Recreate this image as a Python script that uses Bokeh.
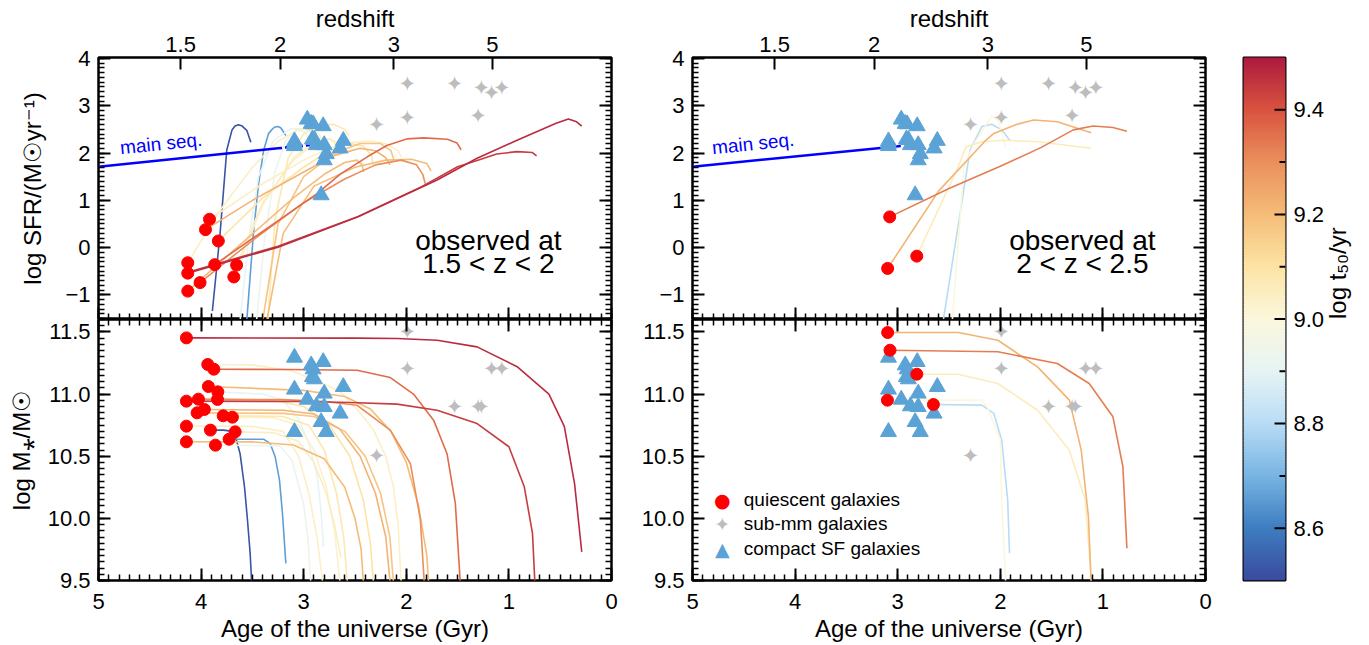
import numpy as np
from bokeh.plotting import figure
from bokeh.layouts import row, column
from bokeh.models import (Range1d, LinearAxis, FixedTicker, PrintfTickFormatter,
                          Label, CustomLabelingPolicy, BoxAnnotation)
from bokeh.core.properties import value
from bokeh.embed import file_html
from bokeh.resources import INLINE

FONT = "Liberation Sans"

# ------------------------------------------------------------------ data
age_ticks = [5, 4, 3, 2, 1, 0]
redshift_labels = ["1.5", "2", "3", "5"]
redshift_ages = [4.20, 3.23, 2.12, 1.16]
sfr_ticks = [-1, 0, 1, 2, 3, 4]
mass_ticks = [9.5, 10.0, 10.5, 11.0, 11.5]
t50_ticks = [8.6, 8.8, 9.0, 9.2, 9.4]
t50_minor = [8.7, 8.9, 9.1, 9.3]

# colour scale of log t50 (8.5 -> 9.5 in steps of 0.1)
t50_stops = ['#3b4a9e', '#3d7dc0', '#78b4e3', '#b8dcf5', '#e6f4f4', '#fbf7dc',
             '#fde4a4', '#f5bc78', '#ea8f5c', '#d9533f', '#ac1a3f']

# main sequence
ms1_age = [5.0, 3.25]
ms1_sfr = [1.71, 2.10]
ms1_dash_age = [3.25, 2.94]
ms1_dash_sfr = [2.10, 2.17]
ms2_age = [5.0, 2.97]
ms2_sfr = [1.71, 2.15]

# quiescent galaxies observed at 1.5<z<2
q1_sfr_age = [4.13, 4.13, 4.13, 4.01, 3.957, 3.918, 3.832, 3.867, 3.654, 3.681]
q1_sfr = [-0.32, -0.54, -0.92, -0.74, 0.38, 0.60, 0.14, -0.36, -0.37, -0.62]
q1_mass_age = [4.143, 3.935, 3.876, 3.929, 3.837, 4.143, 4.026, 3.84, 4.039,
               3.968, 3.785, 3.695, 4.143, 3.909, 3.668, 3.727, 4.143, 3.86]
q1_mass = [11.452, 11.238, 11.2, 11.061, 11.018, 10.943, 10.959, 10.957, 10.849,
           10.876, 10.825, 10.814, 10.742, 10.71, 10.696, 10.637, 10.616, 10.589]

# quiescent galaxies observed at 2<z<2.5
q2_sfr_age = [3.078, 3.098, 2.814]
q2_sfr = [0.65, -0.44, -0.18]
q2_mass_age = [3.098, 3.075, 2.814, 3.10, 2.652]
q2_mass = [11.495, 11.353, 11.16, 10.951, 10.916]

# sub-mm galaxies
submm_age = [1.99, 1.53, 1.27, 1.17, 1.07, 1.99, 1.30, 2.29]
submm_sfr = [3.46, 3.45, 3.37, 3.26, 3.38, 2.75, 2.78, 2.59]
submm_mass = [11.5, 10.9, 10.9, 11.2, 11.2, 11.2, 10.9, 10.5]

# compact star-forming galaxies
compact_age = [3.09, 3.09, 3.09, 2.965, 2.927, 2.915, 2.908, 2.896, 2.876, 2.83,
               2.81, 2.80, 2.80, 2.78, 2.645, 2.614]
compact_sfr = [2.20, 2.15, 2.25, 2.71, 2.62, 2.29, 2.61, 2.28, 2.17, 1.11,
               2.57, 2.17, 1.85, 1.98, 2.10, 2.26]
compact_mass = [11.294, 11.037, 10.696, 10.956, 11.232, 11.138, 11.20, 11.12, 10.903,
                10.776, 11.259, 10.897, 11.005, 10.696, 10.844, 11.058]

# ---- star-formation / mass histories, 1.5<z<2
a01_t50 = 9.47
a01_sfr_age = [4.13, 3.25, 2.47, 1.70, 1.31, 0.92, 0.54, 0.42, 0.34, 0.29]
a01_sfr = [-0.54, 0.01, 0.65, 1.43, 1.89, 2.27, 2.63, 2.72, 2.66, 2.57]
a01_mass_age = [4.143, 2.50, 2.09, 1.70, 1.31, 0.92, 0.61, 0.46, 0.36, 0.29]
a01_mass = [11.452, 11.45, 11.447, 11.433, 11.38, 11.22, 11.0, 10.74, 10.28, 9.73]

a02_t50 = 9.44
a02_sfr_age = [4.13, 3.25, 2.47, 1.85, 1.50, 1.31, 1.12, 0.92, 0.77, 0.73]
a02_sfr = [-0.52, 0.03, 0.66, 1.29, 1.71, 1.84, 1.98, 2.03, 2.01, 1.94]
a02_mass_age = [4.143, 3.0, 2.55, 2.09, 1.70, 1.31, 1.0, 0.85, 0.77, 0.745]
a02_mass = [10.943, 10.94, 10.932, 10.919, 10.87, 10.763, 10.576, 10.254, 9.879, 9.45]

a03_t50 = 9.36
a03_sfr_age = [3.867, 2.87, 2.64, 2.38, 2.19, 1.99, 1.83, 1.60, 1.505, 1.466]
a03_sfr = [-0.36, 1.14, 1.56, 1.92, 2.16, 2.30, 2.32, 2.29, 2.21, 2.07]
a03_mass_age = [3.876, 3.13, 2.48, 2.156, 1.93, 1.734, 1.603, 1.522, 1.473]
a03_mass = [11.2, 11.198, 11.192, 11.133, 11.0, 10.79, 10.52, 10.12, 9.47]

a04_t50 = 8.52
a04_sfr_age = [3.89, 3.815, 3.75, 3.70, 3.67, 3.636, 3.60, 3.555, 3.515]
a04_sfr = [-1.34, 0.30, 2.06, 2.48, 2.57, 2.60, 2.57, 2.48, 2.23]
a04_mass_age = [3.909, 3.782, 3.71, 3.668, 3.62, 3.577, 3.548, 3.522, 3.505]
a04_mass = [10.71, 10.71, 10.702, 10.67, 10.52, 10.254, 9.987, 9.72, 9.45]

a05_t50 = 8.66
a05_sfr_age = [3.555, 3.49, 3.44, 3.39, 3.343, 3.30, 3.278, 3.25, 3.222, 3.174]
a05_sfr = [-1.55, 0.30, 1.35, 2.06, 2.41, 2.52, 2.55, 2.56, 2.53, 2.37]
a05_mass_age = [3.727, 3.392, 3.327, 3.278, 3.236, 3.207, 3.174]
a05_mass = [10.637, 10.637, 10.603, 10.495, 10.308, 10.04, 9.638]

a06_t50 = 8.93
a06_sfr_age = [3.46, 3.38, 3.28, 3.18, 3.07, 2.99, 2.93]
a06_sfr = [-1.55, 0.2, 1.6, 2.25, 2.5, 2.45, 2.25]
a06_mass_age = [3.86, 3.30, 3.229, 3.115, 3.002, 2.96, 2.93]
a06_mass = [10.589, 10.585, 10.58, 10.47, 10.12, 9.85, 9.47]

a07_t50 = 8.90
a07_sfr_age = [3.62, 3.54, 3.44, 3.30, 3.12, 2.97, 2.87, 2.81]
a07_sfr = [-1.55, 0.1, 1.5, 2.25, 2.52, 2.5, 2.35, 2.15]
a07_mass_age = [3.837, 3.4, 3.2, 3.05, 2.95, 2.87, 2.83, 2.807]
a07_mass = [11.018, 11.0, 10.95, 10.8, 10.6, 10.35, 10.05, 9.77]

a08_t50 = 9.04
a08_sfr_age = [3.918, 3.4, 3.0, 2.75, 2.55, 2.35, 2.2, 2.08, 2.05]
a08_sfr = [0.60, 1.35, 1.85, 2.1, 2.22, 2.25, 2.2, 2.05, 1.92]
a08_mass_age = [3.935, 3.5, 3.13, 2.85, 2.644, 2.45, 2.319, 2.2, 2.124, 2.08, 2.049]
a08_mass = [11.238, 11.235, 11.19, 11.1, 11.02, 10.85, 10.71, 10.5, 10.25, 9.95, 9.47]

a09_t50 = 9.20
a09_sfr_age = [3.36, 3.2, 2.9, 2.5, 2.2, 1.95, 1.80, 1.76]
a09_sfr = [-1.55, 0.3, 1.3, 1.7, 1.85, 1.87, 1.78, 1.62]
a09_mass_age = [3.929, 3.0, 2.6, 2.35, 2.15, 2.0, 1.88, 1.80, 1.782]
a09_mass = [11.061, 11.03, 10.98, 10.88, 10.7, 10.45, 10.1, 9.7, 9.47]

a10_t50 = 9.30
a10_sfr_age = [4.01, 3.5, 3.0, 2.6, 2.3, 2.05, 1.9, 1.84, 1.815]
a10_sfr = [-0.74, 0.15, 0.95, 1.45, 1.75, 1.85, 1.75, 1.55, 1.35]
a10_mass_age = [4.026, 3.2, 2.8, 2.48, 2.156, 1.96, 1.863, 1.824]
a10_mass = [10.959, 10.955, 10.94, 10.91, 10.71, 10.44, 9.99, 9.47]

a11_t50 = 9.18
a11_sfr_age = [3.40, 3.25, 3.0, 2.7, 2.45, 2.25, 2.15, 2.12]
a11_sfr = [-1.55, 0.5, 1.5, 2.0, 2.2, 2.2, 2.05, 1.85]
a11_mass_age = [4.039, 3.2, 2.9, 2.6, 2.4, 2.25, 2.16, 2.124]
a11_mass = [10.849, 10.845, 10.82, 10.7, 10.5, 10.2, 9.85, 9.47]

a12_t50 = 9.22
a12_sfr_age = [3.957, 3.5, 3.0, 2.7, 2.45, 2.3, 2.2, 2.16]
a12_sfr = [0.38, 1.0, 1.6, 1.95, 2.1, 2.05, 1.9, 1.75]
a12_mass_age = [3.968, 3.2, 2.9, 2.65, 2.45, 2.3, 2.2, 2.156]
a12_mass = [10.876, 10.87, 10.84, 10.72, 10.5, 10.2, 9.85, 9.47]

a13_t50 = 9.10
a13_sfr_age = [3.832, 3.4, 3.0, 2.75, 2.55, 2.42, 2.34, 2.32]
a13_sfr = [0.14, 1.05, 1.7, 2.05, 2.2, 2.15, 1.95, 1.7]
a13_mass_age = [3.84, 3.3, 3.0, 2.75, 2.55, 2.42, 2.35, 2.319]
a13_mass = [10.957, 10.95, 10.9, 10.75, 10.5, 10.15, 9.8, 9.47]

a14_t50 = 9.08
a14_sfr_age = [3.35, 3.28, 3.15, 3.0, 2.85, 2.7, 2.6, 2.563]
a14_sfr = [-1.55, 0.6, 1.9, 2.4, 2.6, 2.6, 2.5, 2.37]
a14_mass_age = [3.785, 3.2, 2.95, 2.8, 2.68, 2.61, 2.573]
a14_mass = [10.825, 10.82, 10.75, 10.55, 10.2, 9.85, 9.47]

a15_t50 = 9.03
a15_sfr_age = [3.681, 3.4, 3.1, 2.9, 2.75, 2.66, 2.64]
a15_sfr = [-0.62, 0.9, 1.9, 2.25, 2.3, 2.15, 2.0]
a15_mass_age = [3.695, 3.3, 3.05, 2.9, 2.78, 2.7, 2.644]
a15_mass = [10.814, 10.81, 10.75, 10.55, 10.25, 9.9, 9.47]

a16_t50 = 9.05
a16_sfr_age = [3.654, 3.4, 3.1, 2.9, 2.75, 2.66, 2.638]
a16_sfr = [-0.37, 0.95, 1.85, 2.2, 2.3, 2.2, 2.05]
a16_mass_age = [3.668, 3.3, 3.05, 2.9, 2.78, 2.7, 2.638]
a16_mass = [10.696, 10.69, 10.62, 10.45, 10.2, 9.95, 9.686]

a17_t50 = 9.04
a17_sfr_age = [4.13, 3.815, 3.5, 3.25, 3.05, 2.92, 2.85, 2.813]
a17_sfr = [-0.32, 0.79, 1.7, 2.25, 2.5, 2.5, 2.4, 2.25]
a17_mass_age = [4.143, 3.5, 3.2, 3.05, 2.95, 2.87, 2.813]
a17_mass = [10.742, 10.74, 10.7, 10.5, 10.2, 9.85, 9.47]

a18_t50 = 9.20
a18_sfr_age = [4.13, 3.6, 3.1, 2.8, 2.6, 2.48, 2.43, 2.417]
a18_sfr = [-0.92, 0.1, 1.05, 1.55, 1.8, 1.85, 1.75, 1.6]
a18_mass_age = [4.143, 3.5, 3.1, 2.8, 2.6, 2.5, 2.44, 2.417]
a18_mass = [10.616, 10.615, 10.59, 10.48, 10.25, 10.0, 9.75, 9.47]

# ---- histories, 2<z<2.5
b01_t50 = 9.33
b01_sfr_age = [3.078, 2.5, 2.0, 1.6, 1.289, 1.095, 0.902, 0.766]
b01_sfr = [0.65, 1.25, 1.72, 2.12, 2.49, 2.57, 2.54, 2.46]
b01_mass_age = [3.075, 2.024, 1.444, 1.134, 0.902, 0.805, 0.766]
b01_mass = [11.353, 11.34, 11.246, 11.085, 10.817, 10.415, 9.76]

b02_t50 = 9.22
b02_sfr_age = [3.098, 2.6, 2.15, 2.063, 1.85, 1.675, 1.444, 1.114]
b02_sfr = [-0.44, 1.2, 2.25, 2.415, 2.6, 2.698, 2.662, 2.43]
b02_mass_age = [3.098, 2.41, 2.024, 1.637, 1.327, 1.211, 1.141, 1.114]
b02_mass = [11.495, 11.495, 11.433, 11.219, 10.951, 10.549, 10.013, 9.47]

b03_t50 = 9.06
b03_sfr_age = [2.814, 2.41, 2.334, 2.18, 1.947, 1.637, 1.114]
b03_sfr = [-0.18, 1.71, 2.13, 2.24, 2.27, 2.24, 2.10]
b03_mass_age = [2.814, 2.41, 2.024, 1.637, 1.327, 1.172, 1.11]
b03_mass = [11.16, 11.16, 11.085, 10.87, 10.549, 10.147, 9.47]

b04_t50 = 8.80
b04_sfr_age = [2.56, 2.295, 2.18, 2.083, 1.986, 1.908]
b04_sfr = [-1.6, 2.06, 2.56, 2.61, 2.49, 2.27]
b04_mass_age = [2.652, 2.18, 2.063, 1.986, 1.928, 1.91]
b04_mass = [10.916, 10.911, 10.844, 10.629, 10.147, 9.72]

b05_t50 = 9.00
b05_sfr_age = [2.47, 2.354, 2.257, 2.083, 2.024, 1.947]
b05_sfr = [-1.6, 1.71, 2.2, 2.78, 2.70, 2.13]
b05_mass_age = [3.10, 2.18, 2.12, 2.0, 1.986, 1.947]
b05_mass = [10.951, 10.951, 10.884, 10.63, 10.147, 9.47]

tracks_1 = [
    (a01_t50, a01_sfr_age, a01_sfr, a01_mass_age, a01_mass),
    (a02_t50, a02_sfr_age, a02_sfr, a02_mass_age, a02_mass),
    (a03_t50, a03_sfr_age, a03_sfr, a03_mass_age, a03_mass),
    (a04_t50, a04_sfr_age, a04_sfr, a04_mass_age, a04_mass),
    (a05_t50, a05_sfr_age, a05_sfr, a05_mass_age, a05_mass),
    (a06_t50, a06_sfr_age, a06_sfr, a06_mass_age, a06_mass),
    (a07_t50, a07_sfr_age, a07_sfr, a07_mass_age, a07_mass),
    (a08_t50, a08_sfr_age, a08_sfr, a08_mass_age, a08_mass),
    (a09_t50, a09_sfr_age, a09_sfr, a09_mass_age, a09_mass),
    (a10_t50, a10_sfr_age, a10_sfr, a10_mass_age, a10_mass),
    (a11_t50, a11_sfr_age, a11_sfr, a11_mass_age, a11_mass),
    (a12_t50, a12_sfr_age, a12_sfr, a12_mass_age, a12_mass),
    (a13_t50, a13_sfr_age, a13_sfr, a13_mass_age, a13_mass),
    (a14_t50, a14_sfr_age, a14_sfr, a14_mass_age, a14_mass),
    (a15_t50, a15_sfr_age, a15_sfr, a15_mass_age, a15_mass),
    (a16_t50, a16_sfr_age, a16_sfr, a16_mass_age, a16_mass),
    (a17_t50, a17_sfr_age, a17_sfr, a17_mass_age, a17_mass),
    (a18_t50, a18_sfr_age, a18_sfr, a18_mass_age, a18_mass),
]
tracks_2 = [
    (b01_t50, b01_sfr_age, b01_sfr, b01_mass_age, b01_mass),
    (b02_t50, b02_sfr_age, b02_sfr, b02_mass_age, b02_mass),
    (b03_t50, b03_sfr_age, b03_sfr, b03_mass_age, b03_mass),
    (b04_t50, b04_sfr_age, b04_sfr, b04_mass_age, b04_mass),
    (b05_t50, b05_sfr_age, b05_sfr, b05_mass_age, b05_mass),
]

# ------------------------------------------------------------------ helpers
def _rgb(h):
    return np.array([int(h[i:i + 2], 16) for i in (1, 3, 5)], dtype=float)


def t50_color(v):
    f = min(max((v - 8.5) / 0.1, 0.0), 10.0)
    i = min(int(np.floor(f)), 9)
    w = f - i
    c = (1 - w) * _rgb(t50_stops[i]) + w * _rgb(t50_stops[i + 1])
    return "#%02x%02x%02x" % tuple(int(round(x)) for x in c)


age_minor = [round(0.1 * i, 3) for i in range(51)]
sfr_minor = [round(-1.5 + 0.1 * i, 3) for i in range(57)]
mass_minor = [round(9.5 + 0.05 * i, 3) for i in range(43)]

HIDE_JS = """
const all = [];
for (const i of indices) { all.push(i); }
for (const i of all) { indices.unset(i); }
return indices;
"""


def style(ax, labels=True):
    ax.axis_line_color = None
    ax.major_tick_in = 12
    ax.major_tick_out = 0
    ax.minor_tick_in = 6
    ax.minor_tick_out = 0
    ax.major_tick_line_width = 2
    ax.minor_tick_line_width = 1.5
    ax.major_tick_line_color = "black"
    ax.minor_tick_line_color = "black"
    ax.major_label_text_font = FONT
    ax.major_label_text_color = "black"
    ax.axis_label_text_font = FONT
    ax.axis_label_text_font_style = "normal"
    ax.axis_label_text_color = "black"
    ax.axis_label_text_font_size = "24px"
    if labels:
        ax.major_label_text_font_size = "22px"
        ax.major_label_standoff = 8
    else:
        ax.major_label_text_font_size = "0px"
        ax.major_label_standoff = 0
        ax.major_label_policy = CustomLabelingPolicy(code=HIDE_JS)


def panel(top, left_border, ylabel):
    if top:
        yr = Range1d(-1.52, 4.02)
        yt = FixedTicker(ticks=sfr_ticks, minor_ticks=sfr_minor)
    else:
        yr = Range1d(9.5, 11.6)
        yt = FixedTicker(ticks=mass_ticks, minor_ticks=mass_minor)
    p = figure(x_range=Range1d(5, 0), y_range=yr,
               frame_width=513, frame_height=262 if top else 261,
               min_border_left=left_border, min_border_right=20,
               min_border_top=57 if top else 0, min_border_bottom=0 if top else 65,
               x_axis_type=None, y_axis_type=None,
               toolbar_location=None, output_backend="svg")
    p.outline_line_color = "black"
    p.outline_line_width = 2.5
    p.outline_line_alpha = 1.0
    age_t = FixedTicker(ticks=age_ticks, minor_ticks=age_minor)

    left = LinearAxis(ticker=yt)
    style(left)
    if not top:
        left.formatter = PrintfTickFormatter(format="%.1f")
    if ylabel:
        left.axis_label = ylabel
        left.axis_label_standoff = 16 if top else 10
    right = LinearAxis(ticker=yt)
    style(right, labels=False)
    p.add_layout(left, "left")
    p.add_layout(right, "right")

    if top:
        above = LinearAxis(ticker=FixedTicker(ticks=redshift_ages, minor_ticks=[]),
                           major_label_overrides={a: l for a, l in zip(redshift_ages, redshift_labels)})
        style(above)
        above.axis_label = "redshift"
        above.major_label_standoff = 6
        above.axis_label_standoff = 2
        below = LinearAxis(ticker=age_t)
        style(below, labels=False)
    else:
        above = LinearAxis(ticker=age_t)
        style(above, labels=False)
        below = LinearAxis(ticker=age_t)
        style(below)
        below.axis_label = "Age of the universe (Gyr)"
        below.major_label_standoff = 13
        below.axis_label_standoff = 3
    p.add_layout(above, "above")
    p.add_layout(below, "below")
    return p


def draw_tracks(p, tracks, top):
    for t50, sa, sv, ma, mv in sorted(tracks, key=lambda t: t[0]):
        c = t50_color(t50)
        if top:
            p.line(sa, sv, line_color=c, line_width=1.6)
        else:
            p.line(ma, mv, line_color=c, line_width=1.6)


def draw_points(p, top, q_age, q_val):
    yv = compact_sfr if top else compact_mass
    sv = submm_sfr if top else submm_mass
    p.text(x=submm_age, y=sv, text=value("\u2726"), text_font=value("DejaVu Sans"),
           text_font_size=value("21px"), text_align="center", text_baseline="middle",
           text_color="#bdbdbd")
    p.scatter(compact_age, yv, marker="triangle", size=16,
              fill_color="#5ba3d6", line_color="#5ba3d6")
    p.scatter(q_age, q_val, marker="circle", size=12,
              fill_color="#ff0000", line_color="#ff0000")


def ms_label(p, x):
    p.add_layout(Label(x=x, y=2.2, text="main seq.", text_color="#0000ff",
                       text_font=FONT, text_font_size="19px", angle=0.105,
                       text_align="center", text_baseline="middle"))


def obs_label(p, l1, l2):
    for yy, tt in ((0.16, l1), (-0.33, l2)):
        p.add_layout(Label(x=1.2, y=yy, text=tt, text_font=FONT, text_font_size="28px",
                           text_align="center", text_baseline="middle", text_color="black"))


# ------------------------------------------------------------------ panels
tl = panel(True, 98, "log SFR/(M\u2609yr\u207b\u00b9)")
draw_tracks(tl, tracks_1, True)
tl.line(ms1_age, ms1_sfr, line_color="#0000ff", line_width=2.5)
tl.line(ms1_dash_age, ms1_dash_sfr, line_color="#0000ff", line_width=2.5, line_dash="4 3")
draw_points(tl, True, q1_sfr_age, q1_sfr)
ms_label(tl, 4.39)
obs_label(tl, "observed at", "1.5 < z < 2")

bl = panel(False, 98, "log M\u204e/M\u2609")
draw_tracks(bl, tracks_1, False)
draw_points(bl, False, q1_mass_age, q1_mass)

tr = panel(True, 61, None)
draw_tracks(tr, tracks_2, True)
tr.line(ms2_age, ms2_sfr, line_color="#0000ff", line_width=2.5)
draw_points(tr, True, q2_sfr_age, q2_sfr)
ms_label(tr, 4.41)
obs_label(tr, "observed at", "2 < z < 2.5")

br = panel(False, 61, None)
draw_tracks(br, tracks_2, False)
draw_points(br, False, q2_mass_age, q2_mass)

# legend (bottom-right panel)
legend_rows = [("\u25cf", "#ff0000", "quiescent galaxies", 10.15),
               ("\u2726", "#bdbdbd", "sub-mm galaxies", 9.955),
               ("\u25b2", "#5ba3d6", "compact SF galaxies", 9.755)]
for sym, col, txt, yy in legend_rows:
    br.add_layout(Label(x=4.71, y=yy, text=sym, text_color=col, text_font="DejaVu Sans",
                        text_font_size="19px", text_align="center", text_baseline="middle"))
    br.add_layout(Label(x=4.50, y=yy, text=txt, text_color="black", text_font=FONT,
                        text_font_size="19px", text_align="left", text_baseline="middle"))

# ------------------------------------------------------------------ colour bar
cb = figure(x_range=Range1d(0, 1), y_range=Range1d(8.5, 9.5),
            frame_width=42, frame_height=523,
            min_border_left=18, min_border_right=84, min_border_top=57, min_border_bottom=65,
            x_axis_type=None, y_axis_type=None, toolbar_location=None, output_backend="svg")
cb.outline_line_color = "black"
cb.outline_line_width = 2
n_steps = 200
edges = np.linspace(8.5, 9.5, n_steps + 1)
cb.quad(left=0, right=1, bottom=edges[:-1], top=edges[1:] + 0.004,
        fill_color=[t50_color(0.5 * (a + b)) for a, b in zip(edges[:-1], edges[1:])],
        line_color=None)
# tick marks pointing into the bar from its right edge
half = 1.0 / 523.0
for tk in t50_ticks:
    cb.add_layout(BoxAnnotation(left=1 - 11 / 42, right=1.0, bottom=tk - half, top=tk + half,
                                fill_color="black", fill_alpha=1.0, line_color=None,
                                level="overlay"))
for tk in t50_minor:
    cb.add_layout(BoxAnnotation(left=1 - 6 / 42, right=1.0, bottom=tk - half, top=tk + half,
                                fill_color="black", fill_alpha=1.0, line_color=None,
                                level="overlay"))
cax = LinearAxis(ticker=FixedTicker(ticks=t50_ticks, minor_ticks=t50_minor),
                 formatter=PrintfTickFormatter(format="%.1f"))
style(cax)
cax.major_tick_in = 0
cax.minor_tick_in = 0
cax.axis_label = "log t\u2085\u2080/yr"
cax.axis_label_standoff = 10
if "axis_label_orientation" in cax.properties():
    cax.axis_label_orientation = float(np.pi / 2)
cb.add_layout(cax, "right")

layout = row(column(tl, bl), column(tr, br), cb)
open("out.html", "w").write(file_html(layout, INLINE, title="SFH"))
